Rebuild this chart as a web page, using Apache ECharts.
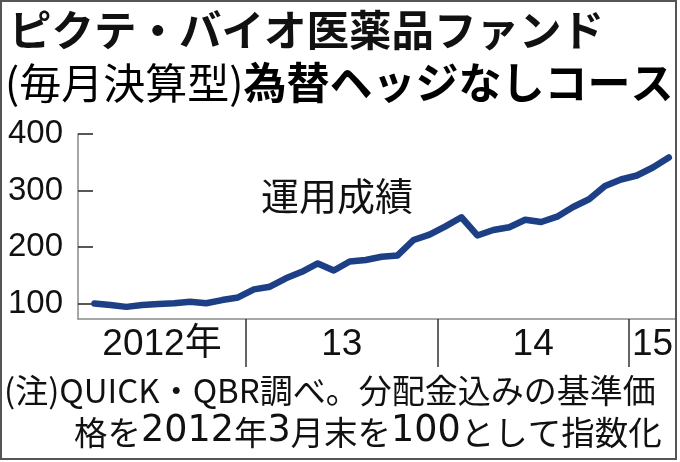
<!DOCTYPE html>
<html>
<head>
<meta charset="utf-8">
<script src="https://cdn.jsdelivr.net/npm/echarts@6/dist/echarts.min.js"></script>
<style>
html,body{margin:0;padding:0;background:#fff;}
#chart{width:680px;height:462px;}
</style>
</head>
<body>
<div id="chart"></div>
<script>
// ---- data ----
var titleLine1 = 'ピクテ・バイオ医薬品ファンド';
var titleLine2a = '(毎月決算型)';
var titleLine2b = '為替ヘッジなしコース';
var annotation = '運用成績';
var noteLine1 = '(注)QUICK・QBR調べ。分配金込みの基準価';
var noteLine2 = '格を2012年3月末を100として指数化';

var months = [
  '2012-03','2012-04','2012-05','2012-06','2012-07','2012-08','2012-09','2012-10','2012-11','2012-12',
  '2013-01','2013-02','2013-03','2013-04','2013-05','2013-06','2013-07','2013-08','2013-09','2013-10','2013-11','2013-12',
  '2014-01','2014-02','2014-03','2014-04','2014-05','2014-06','2014-07','2014-08','2014-09','2014-10','2014-11','2014-12',
  '2015-01','2015-02','2015-03'
];
var values = [
  100, 97.3, 94, 97.3, 99, 100.4, 103, 100.4, 106, 110.6,
  125, 129.7, 144.6, 156, 170.8, 158.4, 174.3, 177, 182.8, 185, 212.4, 222,
  236.6, 252.6, 220.4, 230, 235, 248.3, 244.2, 253.6, 270.8, 284.4, 308, 319.5,
  326.5, 340.7, 358.4
];
var yTicks = [100, 200, 300, 400];
var yearLabels = ['2012年', '13', '14', '15'];
var yearStarts = [2012, 2013, 2014, 2015];

// ---- build ----
var X_MIN = 1.47, X_MAX = 38.95;
function monthPos(s) {
  var p = s.split('-');
  return (parseInt(p[0], 10) - 2012) * 12 + parseInt(p[1], 10) - 0.5;
}
var seriesData = months.map(function (m, i) { return [monthPos(m), values[i]]; });
var dividers = yearStarts.slice(1).map(function (y) { return (y - 2012) * 12; });
var labelPos = yearStarts.map(function (y) {
  var a = Math.max((y - 2012) * 12, X_MIN), b = Math.min((y - 2011) * 12, X_MAX);
  return (a + b) / 2;
});

var chart = echarts.init(document.getElementById('chart'), null, { renderer: 'canvas' });
var CJK = '"Noto Sans CJK JP", "Noto Sans CJK SC", sans-serif';

chart.setOption({
  backgroundColor: '#fff',
  animation: false,
  grid: { left: 78, right: 4, top: 134, bottom: 143, containLabel: false },
  xAxis: {
    type: 'value', min: X_MIN, max: X_MAX,
    axisLine: { show: true, lineStyle: { color: '#8a8a8a', width: 1.5 } },
    splitLine: { show: false },
    axisTick: { show: true, customValues: dividers, length: 48, inside: false,
      lineStyle: { color: '#333', width: 1.5 } },
    axisLabel: {
      customValues: labelPos,
      margin: 7,
      fontSize: 37,
      color: '#111',
      fontFamily: '"Liberation Sans Narrow", "Liberation Sans", ' + CJK,
      formatter: function (v) {
        var best = 0, d = 1e9;
        labelPos.forEach(function (p, i) { if (Math.abs(p - v) < d) { d = Math.abs(p - v); best = i; } });
        return yearLabels[best];
      }
    }
  },
  yAxis: {
    type: 'value', min: 72.5, max: 400,
    axisLine: { show: true, lineStyle: { color: '#8a8a8a', width: 1.5 } },
    splitLine: { show: false },
    axisTick: { show: true, inside: true, length: 15, customValues: yTicks,
      lineStyle: { color: '#222', width: 1.5 } },
    axisLabel: {
      customValues: yTicks, margin: 15, fontSize: 33, color: '#111',
      fontFamily: '"Liberation Sans", Arial, sans-serif'
    }
  },
  series: [{
    type: 'line',
    data: seriesData,
    showSymbol: false,
    symbol: 'none',
    lineStyle: { color: '#1c3f85', width: 6.5, cap: 'round', join: 'round' },
    z: 5
  }],
  graphic: [
    { type: 'rect', shape: { x: 1, y: 1, width: 675, height: 458 },
      style: { fill: 'none', stroke: '#555', lineWidth: 2 }, z: 100 },
    { type: 'text', x: 9, y: 30,
      style: { text: titleLine1, font: 'bold 42.5px ' + CJK, fill: '#111', verticalAlign: 'middle' } },
    { type: 'text', x: 5, y: 83,
      style: {
        text: '{a|' + titleLine2a + '}{b|' + titleLine2b + '}',
        verticalAlign: 'middle',
        rich: {
          a: { fontSize: 42, fontWeight: 'normal', fontFamily: CJK, color: '#111' },
          b: { fontSize: 43, fontWeight: 'bold', fontFamily: CJK, color: '#111' }
        }
      } },
    { type: 'text', x: 261, y: 196,
      style: { text: annotation, font: '38px ' + CJK, fill: '#111', verticalAlign: 'middle' } },
    { type: 'text', x: 4, y: 390,
      style: { text: noteLine1, font: '33px ' + CJK, fill: '#111', verticalAlign: 'middle' } },
    { type: 'text', x: 74, y: 432,
      style: {
        text: noteLine2.replace(/(\d+)/g, '{d|$1}'),
        font: '33.5px ' + CJK, fill: '#111', verticalAlign: 'middle',
        rich: { d: { fontSize: 36.5, fontFamily: '"DejaVu Sans", sans-serif', color: '#111' } }
      } }
  ]
});
</script>
</body>
</html>
